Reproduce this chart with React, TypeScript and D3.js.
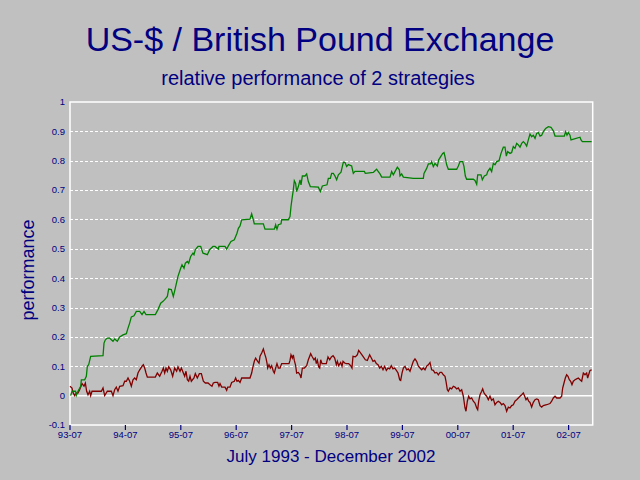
import React from "react";
import * as d3 from "d3";

const title = "US-$ / British Pound Exchange";
const subtitle = "relative performance of 2 strategies";
const xTitle = "July 1993 - December 2002";
const yTitle = "performance";

const xDomain = [1993.5, 2002.935];
const xTickYears = [1993.5, 1994.5, 1995.5, 1996.5, 1997.5, 1998.5, 1999.5, 2000.5, 2001.5, 2002.5];
const xTickLabels = ["93-07", "94-07", "95-07", "96-07", "97-07", "98-07", "99-07", "00-07", "01-07", "02-07"];
const yTicks = [-0.1, 0, 0.1, 0.2, 0.3, 0.4, 0.5, 0.6, 0.7, 0.8, 0.9, 1];
const yTickLabels = ["-0.1", "0", "0.1", "0.2", "0.3", "0.4", "0.5", "0.6", "0.7", "0.8", "0.9", "1"];

// strategy 1 (green): [decimal year, performance]
const greenSeries: [number, number][] = [
  [1993.512, 0.0], [1993.536, 0.015], [1993.6, 0.015], [1993.614, 0.001], [1993.644, 0.015], [1993.693, 0.032],
  [1993.705, 0.054], [1993.765, 0.054], [1993.795, 0.066], [1993.813, 0.1], [1993.837, 0.105], [1993.873, 0.134],
  [1994.096, 0.136], [1994.114, 0.179], [1994.138, 0.19], [1994.174, 0.196], [1994.216, 0.196], [1994.246, 0.19],
  [1994.276, 0.185], [1994.306, 0.193], [1994.354, 0.185], [1994.397, 0.2], [1994.457, 0.207], [1994.517, 0.211],
  [1994.547, 0.23], [1994.577, 0.247], [1994.607, 0.268], [1994.655, 0.272], [1994.697, 0.287], [1994.758, 0.287],
  [1994.8, 0.276], [1994.836, 0.287], [1994.872, 0.276], [1995.04, 0.276], [1995.088, 0.293], [1995.137, 0.315],
  [1995.179, 0.321], [1995.209, 0.327], [1995.257, 0.338], [1995.281, 0.363], [1995.329, 0.361], [1995.365, 0.338],
  [1995.401, 0.366], [1995.449, 0.406], [1995.498, 0.434], [1995.522, 0.446], [1995.558, 0.434], [1995.582, 0.451],
  [1995.618, 0.457], [1995.642, 0.451], [1995.678, 0.474], [1995.72, 0.485], [1995.738, 0.48], [1995.762, 0.497],
  [1995.81, 0.508], [1995.859, 0.508], [1995.901, 0.485], [1995.979, 0.48], [1996.021, 0.497], [1996.081, 0.508],
  [1996.117, 0.508], [1996.177, 0.499], [1996.189, 0.508], [1996.298, 0.508], [1996.328, 0.499], [1996.358, 0.51],
  [1996.406, 0.525], [1996.466, 0.531], [1996.49, 0.542], [1996.514, 0.553], [1996.539, 0.57], [1996.569, 0.578],
  [1996.599, 0.599], [1996.749, 0.601], [1996.779, 0.619], [1996.809, 0.599], [1996.827, 0.585], [1996.99, 0.585],
  [1997.02, 0.567], [1997.188, 0.567], [1997.212, 0.582], [1997.236, 0.567], [1997.261, 0.582], [1997.309, 0.585],
  [1997.321, 0.599], [1997.44, 0.599], [1997.471, 0.61], [1997.489, 0.644], [1997.513, 0.678], [1997.531, 0.701],
  [1997.549, 0.732], [1997.573, 0.723], [1997.591, 0.695], [1997.622, 0.712], [1997.652, 0.735], [1997.67, 0.718],
  [1997.694, 0.748], [1997.742, 0.748], [1997.772, 0.755], [1997.802, 0.729], [1997.838, 0.712], [1997.983, 0.71],
  [1998.019, 0.695], [1998.055, 0.714], [1998.139, 0.718], [1998.163, 0.74], [1998.199, 0.74], [1998.223, 0.757],
  [1998.253, 0.757], [1998.283, 0.748], [1998.313, 0.735], [1998.344, 0.752], [1998.392, 0.761], [1998.434, 0.795],
  [1998.464, 0.794], [1998.494, 0.78], [1998.524, 0.787], [1998.584, 0.782], [1998.614, 0.757], [1998.644, 0.764],
  [1998.813, 0.764], [1998.83, 0.757], [1998.975, 0.76], [1999.005, 0.766], [1999.035, 0.771], [1999.065, 0.763],
  [1999.096, 0.755], [1999.126, 0.744], [1999.276, 0.744], [1999.306, 0.763], [1999.336, 0.752], [1999.366, 0.763],
  [1999.409, 0.778], [1999.445, 0.769], [1999.457, 0.748], [1999.487, 0.755], [1999.517, 0.744], [1999.697, 0.74],
  [1999.878, 0.74], [1999.89, 0.757], [1999.938, 0.774], [1999.968, 0.789], [2000.01, 0.789], [2000.028, 0.797],
  [2000.058, 0.78], [2000.088, 0.791], [2000.131, 0.782], [2000.155, 0.803], [2000.191, 0.814], [2000.227, 0.825],
  [2000.251, 0.828], [2000.269, 0.814], [2000.299, 0.786], [2000.329, 0.771], [2000.48, 0.771], [2000.51, 0.782],
  [2000.54, 0.797], [2000.588, 0.797], [2000.612, 0.78], [2000.636, 0.748], [2000.66, 0.737], [2000.78, 0.737],
  [2000.81, 0.733], [2000.841, 0.72], [2000.859, 0.752], [2000.919, 0.752], [2000.943, 0.735], [2000.979, 0.748],
  [2001.021, 0.752], [2001.039, 0.763], [2001.081, 0.774], [2001.111, 0.763], [2001.141, 0.791], [2001.171, 0.786],
  [2001.202, 0.797], [2001.244, 0.8], [2001.28, 0.825], [2001.322, 0.846], [2001.352, 0.846], [2001.376, 0.816],
  [2001.4, 0.831], [2001.442, 0.825], [2001.472, 0.828], [2001.502, 0.848], [2001.532, 0.842], [2001.563, 0.859],
  [2001.593, 0.854], [2001.623, 0.846], [2001.653, 0.859], [2001.683, 0.865], [2001.713, 0.859], [2001.743, 0.85],
  [2001.773, 0.871], [2001.803, 0.891], [2001.833, 0.882], [2001.863, 0.887], [2001.894, 0.876], [2001.924, 0.893],
  [2001.954, 0.896], [2001.984, 0.884], [2002.014, 0.887], [2002.044, 0.899], [2002.086, 0.91], [2002.134, 0.916],
  [2002.182, 0.914], [2002.224, 0.902], [2002.255, 0.884], [2002.423, 0.884], [2002.447, 0.899], [2002.471, 0.887],
  [2002.495, 0.896], [2002.525, 0.887], [2002.543, 0.871], [2002.706, 0.88], [2002.724, 0.871], [2002.748, 0.865],
  [2002.916, 0.865],
];

// strategy 2 (red): [decimal year, performance]
const redSeries: [number, number][] = [
  [1993.5, 0.032], [1993.536, 0.026], [1993.554, 0.011], [1993.584, 0.0], [1993.614, 0.009], [1993.644, 0.009],
  [1993.674, 0.02], [1993.717, 0.041], [1993.753, 0.032], [1993.777, 0.043], [1993.801, 0.015], [1993.825, 0.003],
  [1993.855, 0.015], [1993.873, 0.0], [1993.897, 0.015], [1994.066, 0.015], [1994.096, 0.026], [1994.126, 0.0],
  [1994.174, 0.015], [1994.246, 0.015], [1994.276, 0.0], [1994.306, 0.02], [1994.336, 0.029], [1994.366, 0.015],
  [1994.397, 0.032], [1994.457, 0.034], [1994.487, 0.049], [1994.517, 0.049], [1994.547, 0.06], [1994.577, 0.049],
  [1994.607, 0.032], [1994.637, 0.054], [1994.667, 0.06], [1994.697, 0.054], [1994.727, 0.077], [1994.758, 0.088],
  [1994.8, 0.1], [1994.824, 0.105], [1994.848, 0.094], [1994.872, 0.077], [1994.896, 0.063], [1995.04, 0.063],
  [1995.076, 0.077], [1995.119, 0.066], [1995.161, 0.083], [1995.185, 0.094], [1995.209, 0.077], [1995.233, 0.094],
  [1995.257, 0.083], [1995.281, 0.098], [1995.317, 0.088], [1995.353, 0.066], [1995.389, 0.094], [1995.425, 0.083],
  [1995.449, 0.098], [1995.486, 0.083], [1995.51, 0.094], [1995.546, 0.077], [1995.57, 0.066], [1995.594, 0.083],
  [1995.618, 0.054], [1995.642, 0.049], [1995.666, 0.066], [1995.69, 0.049], [1995.738, 0.06], [1995.762, 0.075],
  [1995.798, 0.06], [1995.835, 0.075], [1995.871, 0.075], [1995.907, 0.049], [1995.943, 0.043], [1995.991, 0.043],
  [1996.027, 0.037], [1996.063, 0.032], [1996.087, 0.043], [1996.117, 0.045], [1996.165, 0.045], [1996.189, 0.032],
  [1996.208, 0.041], [1996.238, 0.029], [1996.298, 0.029], [1996.328, 0.018], [1996.346, 0.029], [1996.388, 0.029],
  [1996.418, 0.045], [1996.466, 0.049], [1996.49, 0.06], [1996.514, 0.049], [1996.539, 0.052], [1996.569, 0.045],
  [1996.599, 0.06], [1996.629, 0.06], [1996.749, 0.06], [1996.779, 0.077], [1996.797, 0.094], [1996.827, 0.117],
  [1996.851, 0.128], [1996.887, 0.117], [1996.912, 0.111], [1996.93, 0.134], [1996.96, 0.145], [1996.99, 0.159],
  [1997.02, 0.139], [1997.038, 0.128], [1997.056, 0.111], [1997.068, 0.094], [1997.092, 0.105], [1997.116, 0.094],
  [1997.14, 0.102], [1997.17, 0.083], [1997.188, 0.077], [1997.212, 0.094], [1997.236, 0.109], [1997.261, 0.094],
  [1997.291, 0.094], [1997.321, 0.109], [1997.453, 0.109], [1997.471, 0.12], [1997.489, 0.139], [1997.513, 0.128],
  [1997.531, 0.139], [1997.549, 0.12], [1997.573, 0.102], [1997.591, 0.077], [1997.622, 0.079], [1997.652, 0.071],
  [1997.67, 0.06], [1997.694, 0.094], [1997.73, 0.094], [1997.772, 0.102], [1997.802, 0.122], [1997.844, 0.143],
  [1997.868, 0.134], [1997.904, 0.122], [1997.928, 0.128], [1997.946, 0.109], [1997.965, 0.12], [1997.989, 0.098],
  [1998.007, 0.094], [1998.025, 0.122], [1998.049, 0.109], [1998.127, 0.109], [1998.157, 0.132], [1998.188, 0.122],
  [1998.218, 0.132], [1998.248, 0.136], [1998.278, 0.128], [1998.308, 0.105], [1998.326, 0.117], [1998.35, 0.102],
  [1998.386, 0.113], [1998.41, 0.1], [1998.428, 0.117], [1998.458, 0.111], [1998.488, 0.109], [1998.53, 0.109],
  [1998.566, 0.102], [1998.59, 0.094], [1998.608, 0.134], [1998.65, 0.132], [1998.686, 0.139], [1998.711, 0.154],
  [1998.747, 0.145], [1998.789, 0.134], [1998.831, 0.122], [1998.867, 0.12], [1998.909, 0.139], [1998.939, 0.128],
  [1998.969, 0.117], [1998.999, 0.12], [1999.029, 0.109], [1999.06, 0.105], [1999.09, 0.094], [1999.12, 0.1],
  [1999.15, 0.088], [1999.18, 0.1], [1999.21, 0.086], [1999.24, 0.094], [1999.27, 0.091], [1999.3, 0.102],
  [1999.33, 0.091], [1999.36, 0.094], [1999.391, 0.086], [1999.421, 0.077], [1999.451, 0.054], [1999.469, 0.052],
  [1999.493, 0.077], [1999.517, 0.094], [1999.547, 0.1], [1999.577, 0.088], [1999.607, 0.091], [1999.637, 0.083],
  [1999.667, 0.1], [1999.697, 0.117], [1999.727, 0.125], [1999.757, 0.117], [1999.788, 0.1], [1999.818, 0.094],
  [1999.848, 0.088], [1999.878, 0.094], [1999.908, 0.088], [1999.938, 0.1], [1999.968, 0.105], [1999.998, 0.113],
  [2000.028, 0.088], [2000.058, 0.086], [2000.088, 0.077], [2000.119, 0.079], [2000.149, 0.071], [2000.179, 0.079],
  [2000.209, 0.079], [2000.239, 0.071], [2000.269, 0.066], [2000.287, 0.049], [2000.311, 0.02], [2000.329, 0.015],
  [2000.359, 0.026], [2000.389, 0.023], [2000.419, 0.032], [2000.449, 0.029], [2000.48, 0.023], [2000.51, 0.026],
  [2000.54, 0.015], [2000.57, 0.02], [2000.6, -0.002], [2000.63, -0.042], [2000.648, -0.053], [2000.672, -0.019],
  [2000.696, -0.002], [2000.72, -0.011], [2000.75, -0.008], [2000.78, -0.019], [2000.81, -0.025], [2000.841, -0.042],
  [2000.859, -0.048], [2000.877, -0.019], [2000.901, 0.003], [2000.931, 0.015], [2000.949, 0.023], [2000.973, 0.009],
  [2000.997, 0.003], [2001.021, -0.002], [2001.051, -0.014], [2001.081, -0.002], [2001.111, -0.016], [2001.141, -0.011],
  [2001.171, -0.031], [2001.202, -0.023], [2001.232, -0.019], [2001.262, -0.023], [2001.292, -0.031], [2001.322, -0.027],
  [2001.352, -0.034], [2001.382, -0.053], [2001.412, -0.039], [2001.442, -0.042], [2001.472, -0.034], [2001.502, -0.031],
  [2001.532, -0.019], [2001.563, -0.014], [2001.593, -0.008], [2001.623, -0.002], [2001.653, 0.003], [2001.683, 0.009],
  [2001.707, -0.002], [2001.731, -0.014], [2001.755, -0.008], [2001.779, -0.019], [2001.803, -0.023], [2001.833, -0.039],
  [2001.863, -0.023], [2001.894, -0.014], [2001.924, -0.011], [2001.954, -0.014], [2001.984, -0.034], [2002.014, -0.039],
  [2002.044, -0.034], [2002.104, -0.031], [2002.164, -0.027], [2002.194, -0.019], [2002.224, -0.008], [2002.255, -0.002],
  [2002.285, -0.008], [2002.345, -0.008], [2002.375, -0.002], [2002.393, 0.026], [2002.417, 0.043], [2002.441, 0.06],
  [2002.465, 0.071], [2002.489, 0.066], [2002.513, 0.054], [2002.537, 0.049], [2002.561, 0.037], [2002.585, 0.049],
  [2002.616, 0.054], [2002.646, 0.057], [2002.676, 0.06], [2002.706, 0.054], [2002.736, 0.049], [2002.766, 0.077],
  [2002.796, 0.071], [2002.826, 0.077], [2002.844, 0.06], [2002.862, 0.071], [2002.886, 0.086], [2002.916, 0.088],
];

const W = 640;
const H = 480;
const M = { left: 70, right: 47.3, top: 102, bottom: 55 };
const NAVY = "#000080";
const FONT = "'Liberation Sans', Arial, sans-serif";

export default function App() {
  const x = d3.scaleLinear().domain(xDomain).range([M.left, W - M.right]);
  const y = d3.scaleLinear().domain([-0.1, 1]).range([H - M.bottom, M.top]);
  const line = d3
    .line<[number, number]>()
    .x((d) => x(d[0]))
    .y((d) => y(d[1]));
  const x0 = x.range()[0];
  const x1 = x.range()[1];
  const yb = y.range()[0];
  const yt = y.range()[1];

  return (
    <svg
      width={W}
      height={H}
      style={{ position: "absolute", left: 0, top: 0, display: "block" }}
      fontFamily={FONT}
    >
      <rect x={0} y={0} width={W} height={H} fill="#c0c0c0" />
      <text x={320} y={51} textAnchor="middle" fontSize={34} fill={NAVY}>
        {title}
      </text>
      <text x={318} y={85} textAnchor="middle" fontSize={20} fill={NAVY}>
        {subtitle}
      </text>

      {yTicks.map((t, i) => {
        const solid = t === 0 || t === 1 || t === -0.1;
        return (
          <g key={"y" + i}>
            {!solid && (
              <line
                x1={x0}
                x2={x1}
                y1={Math.round(y(t)) + 0.5}
                y2={Math.round(y(t)) + 0.5}
                stroke="#fff"
                strokeDasharray="3,2"
                shapeRendering="crispEdges"
              />
            )}
            <text
              x={65}
              y={y(t)}
              dy="0.35em"
              textAnchor="end"
              fontSize={9.5}
              fill={NAVY}
            >
              {yTickLabels[i]}
            </text>
          </g>
        );
      })}

      <g stroke="#fff" strokeWidth={1.5} fill="none">
        <line x1={x0} x2={x1} y1={y(0)} y2={y(0)} />
        <rect x={x0} y={yt} width={x1 - x0} height={yb - yt} />
      </g>

      {xTickYears.map((t, i) => (
        <g key={"x" + i}>
          <line x1={x(t)} x2={x(t)} y1={yb} y2={yb + 5} stroke={NAVY} strokeWidth={1.2} />
          <text x={x(t)} y={438} textAnchor="middle" fontSize={9.5} fill={NAVY}>
            {xTickLabels[i]}
          </text>
        </g>
      ))}

      <path d={line(redSeries) || ""} fill="none" stroke="#800000" strokeWidth={1.3} />
      <path d={line(greenSeries) || ""} fill="none" stroke="#008000" strokeWidth={1.3} />

      <text x={331} y={462} textAnchor="middle" fontSize={17} fill={NAVY}>
        {xTitle}
      </text>
      <text
        transform="translate(34,270) rotate(-90)"
        textAnchor="middle"
        fontSize={18}
        fill={NAVY}
      >
        {yTitle}
      </text>
    </svg>
  );
}
